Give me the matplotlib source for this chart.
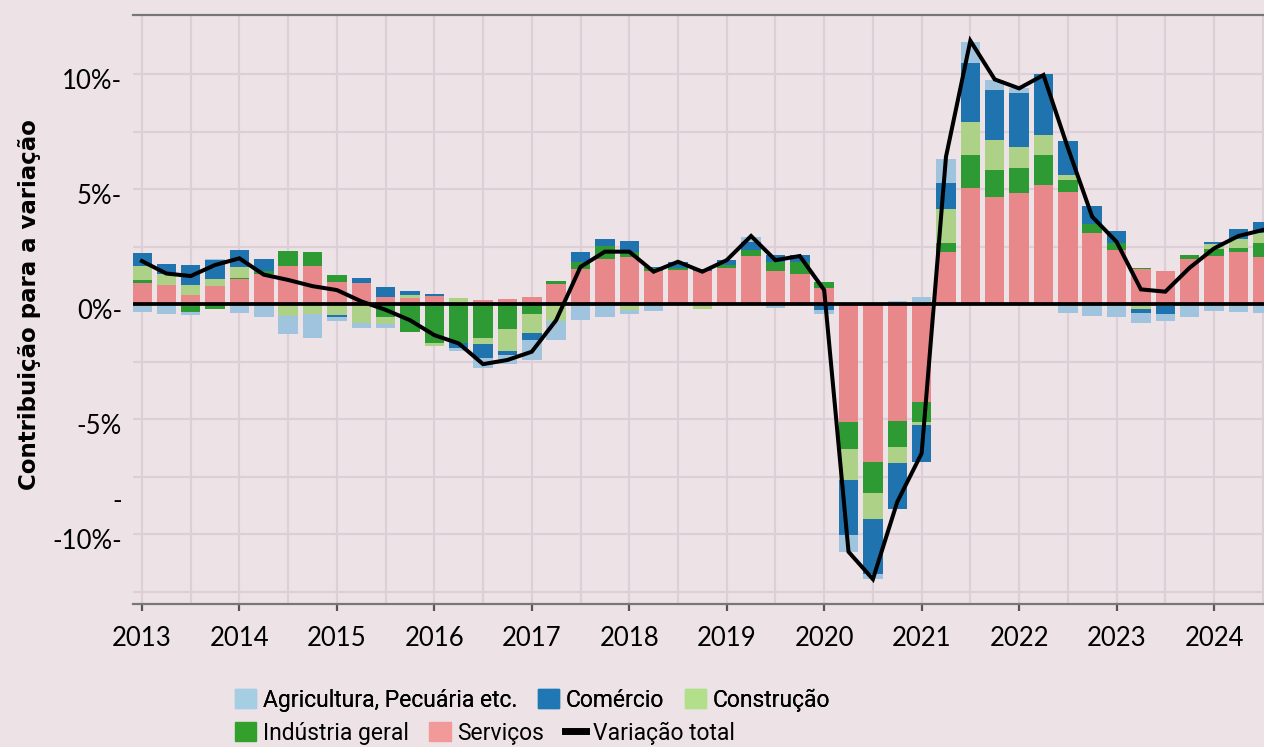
import matplotlib.pyplot as plt
import matplotlib.transforms as mtransforms
import numpy as np
from matplotlib.patches import Patch
from matplotlib.lines import Line2D

# trimestres 2013T1 .. 2024T3
quarters = np.arange(2013, 2024.75, 0.25)
years = list(range(2013, 2025))

# contribuições (p.p.)
agricultura = [-0.33, -0.43, -0.15, 0.05, -0.38, -0.58, -0.81, -1.04, -0.14, -0.22,
               -0.16, 0.00, 0.00, -0.10, -0.43, -0.41, -0.87, -0.80, -0.68, -0.57,
               -0.19, -0.28, 0.00, 0.00, 0.00, 0.22, -0.17, 0.00, -0.19, -0.72,
               -0.22, 0.14, 0.29, 1.03, 0.94, 0.43, 0.22, 0.00, -0.38, -0.52,
               -0.55, -0.43, -0.32, -0.58, -0.30, -0.36, -0.40]
comercio = [0.58, 0.44, 0.87, 0.80, 0.73, 0.51, 0.00, -0.04, -0.10, 0.19,
            0.41, 0.19, 0.07, -0.22, -0.62, -0.14, -0.29, 0.00, 0.44, 0.29,
            0.46, 0.07, 0.29, 0.07, 0.21, 0.36, 0.29, 0.29, -0.25, -2.39,
            -2.42, -2.00, -1.62, 1.16, 2.54, 2.17, 2.32, 2.65, 1.49, 0.75,
            0.55, -0.17, -0.32, 0.00, 0.10, 0.45, 0.51]
construcao = [0.61, 0.47, 0.44, 0.33, 0.48, 0.00, -0.51, -0.41, -0.48, -0.81,
              -0.32, 0.11, -0.10, 0.28, -0.25, -0.97, -0.84, -0.75, 0.00, 0.00,
              -0.25, 0.00, 0.00, -0.20, 0.00, 0.00, 0.00, 0.00, 0.00, -1.38,
              -1.12, -0.67, -0.12, 1.45, 1.45, 1.30, 0.91, 0.84, 0.22, 0.00,
              0.00, -0.23, -0.09, 0.00, 0.22, 0.36, 0.40]
industria = [0.14, 0.00, -0.33, -0.22, 0.06, 0.12, 0.65, 0.61, 0.29, 0.00,
             -0.55, -1.20, -1.71, -1.71, -1.48, -1.09, -0.42, 0.14, 0.32, 0.58,
             0.25, 0.12, 0.07, 0.00, 0.15, 0.26, 0.39, 0.54, 0.26, -1.16,
             -1.35, -1.16, -0.87, 0.39, 1.45, 1.16, 1.09, 1.33, 0.51, 0.43,
             0.29, 0.06, 0.00, 0.17, 0.30, 0.17, 0.64]
servicos = [0.90, 0.83, 0.39, 0.78, 1.09, 1.33, 1.67, 1.67, 0.97, 0.93,
            0.32, 0.28, 0.36, 0.00, 0.17, 0.22, 0.32, 0.87, 1.52, 1.94,
            2.03, 1.43, 1.48, 1.45, 1.55, 2.09, 1.45, 1.30, 0.71, -5.12,
            -6.86, -5.07, -4.25, 2.28, 5.03, 4.67, 4.84, 5.17, 4.88, 3.07,
            2.35, 1.53, 1.43, 1.96, 2.09, 2.28, 2.03]
total = [1.87, 1.33, 1.22, 1.70, 1.99, 1.28, 1.05, 0.78, 0.61, 0.12,
         -0.25, -0.70, -1.35, -1.71, -2.61, -2.43, -2.07, -0.70, 1.62, 2.28,
         2.28, 1.41, 1.84, 1.41, 1.91, 2.96, 1.91, 2.09, 0.61, -10.77,
         -11.96, -8.60, -6.49, 6.41, 11.45, 9.77, 9.38, 9.96, 6.80, 3.80,
         2.71, 0.64, 0.54, 1.58, 2.42, 2.96, 3.22]

bg = '#ede3e7'
grid_col = '#dcd0d6'

fig = plt.figure(figsize=(12.64, 7.47), dpi=100, facecolor=bg)
ax = fig.add_axes([133 / 1264, 1 - 604 / 747, 1 - 133 / 1264, (604 - 15) / 747])
ax.set_facecolor(bg)

# barras empilhadas (positivos e negativos separadamente)
stack = [(servicos, '#e9888b'), (industria, '#2e9a33'), (construcao, '#aed188'),
         (comercio, '#1f74b0'), (agricultura, '#a0c4de')]
pos = np.zeros(len(quarters))
neg = np.zeros(len(quarters))
for vals, col in stack:
    v = np.array(vals)
    bottom = np.where(v >= 0, pos, neg)
    ax.bar(quarters, v, bottom=bottom, width=0.2, color=col, linewidth=0, zorder=2)
    pos += np.clip(v, 0, None)
    neg += np.clip(v, None, 0)

ax.axhline(0, color='black', lw=2.7, zorder=3)
ax.plot(quarters, total, color='black', lw=2.9, zorder=4, solid_joinstyle='miter')

ax.set_xlim(2012.908, 2024.513)
ax.set_ylim(-13.04, 12.57)

ax.set_xticks(years)
ax.set_xticklabels([str(y) for y in years])
ax.set_xticks([y + 0.5 for y in years], minor=True)
ax.set_yticks([-10, -5, 0, 5, 10])
ax.set_yticklabels(['-10%-', '-5%', '0%-', '5%-', '10%-'])
ax.set_yticks([-12.5, -7.5, -2.5, 2.5, 7.5], minor=True)
ax.grid(True, which='both', color=grid_col, lw=1.6, zorder=0)
ax.set_axisbelow(True)

ax.tick_params(axis='x', which='major', length=5, width=1.6, color='#555555',
               labelsize=18.5, pad=11)
ax.tick_params(axis='x', which='minor', length=0)
ax.tick_params(axis='y', which='both', length=0, labelsize=18.5, pad=8)
# os rótulos do eixo y ficam um pouco abaixo das linhas de grade
shift = mtransforms.ScaledTranslation(0, -5 / 100, fig.dpi_scale_trans)
for lab in ax.get_xticklabels() + ax.get_yticklabels():
    lab.set_fontfamily('Lato')
for lab in ax.get_yticklabels():
    lab.set_transform(lab.get_transform() + shift)

for s in ['left', 'right']:
    ax.spines[s].set_visible(False)
for s in ['top', 'bottom']:
    ax.spines[s].set_color('#777777')
    ax.spines[s].set_linewidth(1.6)

# traço solto que aparece no eixo
ax.text(-0.0097, -8.6, '-', transform=ax.get_yaxis_transform(), ha='right',
        va='center', fontsize=18.5, family='Lato')

fig.text(30 / 1264, 1 - 305 / 747, 'Contribuição para a variação', rotation=90,
         ha='center', va='center', fontsize=16.5, fontweight='bold',
         family='DejaVu Sans')

# legenda em duas linhas
leg_kw = dict(frameon=False, loc='center left', handlelength=0.92, handleheight=0.92,
              handletextpad=0.3, columnspacing=0.9, borderpad=0, borderaxespad=0,
              ncol=3, prop={'family': 'Roboto', 'size': 16.5})
row1 = [Patch(color='#a6cee3', label='Agricultura, Pecuária etc.'),
        Patch(color='#1f78b4', label='Comércio'),
        Patch(color='#b2df8a', label='Construção')]
row2 = [Patch(color='#33a02c', label='Indústria geral'),
        Patch(color='#f29a99', label='Serviços'),
        Line2D([], [], color='black', lw=5, label='Variação total')]
l1 = fig.legend(handles=row1, bbox_to_anchor=(235 / 1264, 1 - 700 / 747), **leg_kw)
fig.add_artist(l1)
fig.legend(handles=row2, bbox_to_anchor=(235 / 1264, 1 - 733 / 747), **leg_kw)

fig.savefig('out.png', dpi=100, facecolor=bg)
